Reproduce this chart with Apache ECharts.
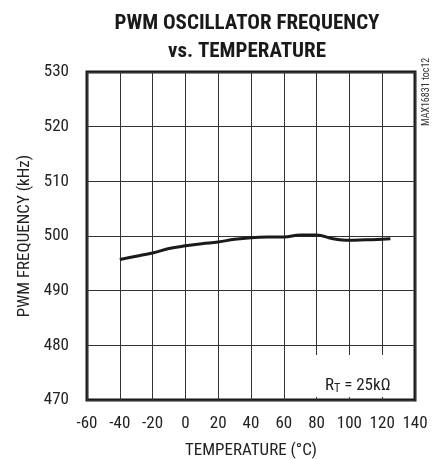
<!DOCTYPE html>
<html><head><meta charset="utf-8">
<script src="https://cdn.jsdelivr.net/npm/echarts@6/dist/echarts.min.js"></script>
<style>html,body{margin:0;padding:0;background:#fff}#c{width:438px;height:459px}</style>
</head><body><div id="c"></div>
<script>
const temps = [-40, -30, -20, -10, 0, 10, 20, 30, 40, 50, 60, 70, 80, 90, 100, 110, 120, 125];
const freq  = [495.7, 496.3, 496.9, 497.7, 498.2, 498.6, 498.9, 499.4, 499.7, 499.8, 499.8, 500.2, 500.2, 499.5, 499.2, 499.3, 499.4, 499.5];
const xTicks = [-60, -40, -20, 0, 20, 40, 60, 80, 100, 120, 140];
const yTicks = [470, 480, 490, 500, 510, 520, 530];
const titleLines = ['PWM OSCILLATOR FREQUENCY', 'vs. TEMPERATURE'];
const xName = 'TEMPERATURE (°C)';
const yName = 'PWM FREQUENCY (kHz)';
const sideNote = 'MAX16831 toc12';

const font = '"Roboto Condensed", "DejaVu Sans Condensed", sans-serif';
const chart = echarts.init(document.getElementById('c'));
chart.setOption({
  animation: false,
  title: {
    text: titleLines.join('\n'),
    left: 242, top: 5, textAlign: 'center',
    textStyle: { fontFamily: font, fontWeight: 'bold', fontSize: 21, lineHeight: 28, color: '#1a1a1a' }
  },
  grid: { left: 87, top: 72, right: 23, bottom: 59, show: true, borderColor: '#1a1a1a', borderWidth: 3,
          containLabel: false, outerBoundsMode: 'none' },
  xAxis: {
    type: 'value', min: xTicks[0], max: xTicks[xTicks.length - 1], interval: 20,
    name: xName, nameLocation: 'middle', nameGap: 42,
    nameTextStyle: { fontFamily: font, fontSize: 17, color: '#222' },
    axisLine: { show: false }, axisTick: { show: false },
    axisLabel: { fontFamily: font, fontSize: 17, color: '#222', margin: 15 },
    splitLine: { show: true, lineStyle: { color: '#333', width: 1 } }
  },
  yAxis: {
    type: 'value', min: yTicks[0], max: yTicks[yTicks.length - 1], interval: 10,
    name: yName, nameLocation: 'middle', nameGap: 35,
    nameTextStyle: { fontFamily: font, fontSize: 17, color: '#222' },
    axisLine: { show: false }, axisTick: { show: false },
    axisLabel: { fontFamily: font, fontSize: 17, color: '#222', margin: 18 },
    splitLine: { show: true, lineStyle: { color: '#333', width: 1 } }
  },
  series: [{
    type: 'line', data: temps.map((t, i) => [t, freq[i]]),
    smooth: 0.4, showSymbol: false,
    lineStyle: { color: '#1a1a1a', width: 3 }
  }],
  graphic: [
    { type: 'rect', shape: { x: 302, y: 355, width: 110, height: 42 }, style: { fill: '#fff' }, z: 10 },
    { type: 'text', x: 325, y: 376, z: 11, style: {
        text: '{r|R}{s|T}{r| = 25kΩ}',
        rich: {
          r: { fontFamily: font, fontSize: 17, fill: '#222' },
          s: { fontFamily: font, fontSize: 12, fill: '#222', padding: [7, 0, 0, 0] }
        } } },
    { type: 'text', x: 421, y: 126, rotation: Math.PI / 2, z: 11, style: {
        text: sideNote, fontFamily: font, fontSize: 10, fill: '#333', verticalAlign: 'top' } }
  ]
});
</script></body></html>
